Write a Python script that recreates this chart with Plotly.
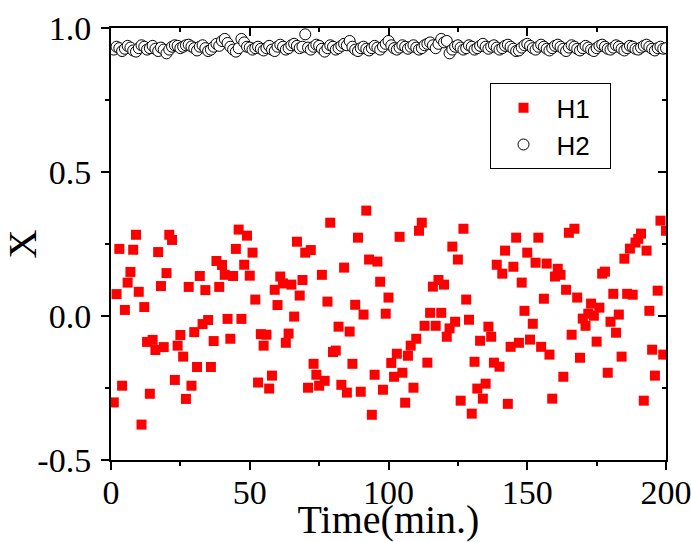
import plotly.graph_objects as go

# ---------------- data ----------------
h1_time = list(range(1, 201))
h1_x = [
    -0.300, 0.076, 0.233, -0.242, 0.021, 0.116, 0.153, 0.230, 0.282, 0.084,
    -0.377, 0.031, -0.090, -0.270, -0.083, -0.118, 0.222, 0.104, -0.108, 0.149,
    0.282, 0.264, -0.222, -0.103, -0.066, -0.141, -0.288, 0.101, -0.242, -0.056,
    -0.177, 0.139, -0.028, 0.090, -0.014, -0.177, -0.087, 0.191, 0.101, 0.177,
    0.143, -0.010, -0.079, 0.139, 0.233, 0.300, -0.010, 0.178, 0.279, 0.140,
    0.220, 0.057, -0.231, -0.063, -0.103, -0.065, -0.252, -0.207, 0.091, 0.038,
    0.137, 0.113, -0.093, -0.061, 0.109, -0.002, 0.258, 0.071, 0.125, 0.220,
    -0.249, 0.229, -0.166, -0.204, -0.242, 0.143, -0.225, 0.050, 0.324, -0.125,
    -0.120, -0.037, -0.239, 0.168, -0.266, -0.054, -0.166, 0.039, 0.272, -0.263,
    0.005, 0.366, 0.196, -0.343, -0.204, 0.189, 0.119, -0.256, 0.008, 0.064,
    -0.163, -0.211, -0.131, 0.275, -0.197, -0.301, -0.138, -0.103, -0.249, -0.079,
    0.296, 0.324, -0.034, -0.162, 0.011, 0.102, -0.034, 0.125, 0.011, 0.109,
    -0.072, -0.043, 0.241, -0.020, 0.196, -0.294, 0.303, 0.057, -0.013, -0.339,
    -0.159, -0.252, -0.086, -0.287, -0.235, -0.037, -0.072, -0.162, 0.178, -0.176,
    0.147, 0.227, -0.305, -0.107, 0.171, 0.272, -0.093, 0.116, 0.018, 0.220,
    -0.082, -0.027, 0.185, 0.272, -0.107, 0.060, 0.182, -0.134, -0.287, 0.137,
    0.164, 0.143, -0.211, 0.091, 0.289, -0.065, 0.303, 0.064, -0.145, -0.009,
    -0.034, 0.008, 0.043, 0.001, -0.089, 0.029, 0.147, 0.154, -0.197, -0.020,
    0.077, -0.058, 0.005, -0.141, 0.199, 0.077, 0.234, 0.074, 0.255, 0.268,
    0.286, -0.294, 0.227, 0.018, -0.117, -0.207, 0.088, 0.331, -0.134, 0.296,
]

h2_time = list(range(1, 201))
h2_x = [
    0.925, 0.935, 0.930, 0.920, 0.928, 0.938, 0.932, 0.922, 0.918, 0.930,
    0.940, 0.935, 0.925, 0.930, 0.938, 0.928, 0.920, 0.932, 0.925, 0.912,
    0.925, 0.935, 0.940, 0.938, 0.930, 0.935, 0.940, 0.942, 0.936, 0.930,
    0.922, 0.935, 0.940, 0.930, 0.920, 0.925, 0.935, 0.945, 0.938, 0.955,
    0.962, 0.948, 0.935, 0.925, 0.918, 0.930, 0.962, 0.950, 0.935, 0.932,
    0.925, 0.930, 0.935, 0.928, 0.922, 0.930, 0.938, 0.925, 0.920, 0.935,
    0.942, 0.935, 0.925, 0.930, 0.940, 0.945, 0.938, 0.930, 0.935, 0.978,
    0.932, 0.925, 0.935, 0.942, 0.938, 0.928, 0.918, 0.930, 0.940, 0.935,
    0.925, 0.930, 0.938, 0.945, 0.940, 0.955, 0.935, 0.925, 0.920, 0.930,
    0.935, 0.928, 0.922, 0.930, 0.938, 0.932, 0.925, 0.935, 0.945, 0.955,
    0.940, 0.930, 0.925, 0.932, 0.940, 0.935, 0.928, 0.935, 0.940, 0.932,
    0.925, 0.930, 0.940, 0.945, 0.950, 0.940, 0.930, 0.945, 0.962, 0.950,
    0.955, 0.912, 0.925, 0.935, 0.940, 0.932, 0.925, 0.930, 0.940, 0.935,
    0.925, 0.930, 0.938, 0.945, 0.935, 0.928, 0.935, 0.940, 0.932, 0.925,
    0.930, 0.938, 0.942, 0.935, 0.928, 0.920, 0.922, 0.932, 0.940, 0.945,
    0.938, 0.930, 0.925, 0.935, 0.942, 0.935, 0.928, 0.922, 0.930, 0.938,
    0.942, 0.935, 0.928, 0.920, 0.932, 0.940, 0.935, 0.928, 0.922, 0.930,
    0.938, 0.932, 0.925, 0.920, 0.930, 0.938, 0.942, 0.935, 0.928, 0.925,
    0.932, 0.940, 0.935, 0.928, 0.922, 0.930, 0.938, 0.935, 0.928, 0.925,
    0.932, 0.938, 0.942, 0.935, 0.928, 0.922, 0.930, 0.935, 0.928, 0.930,
]

x_ticks = [0, 50, 100, 150, 200]
x_minor = [25, 75, 125, 175]
y_ticks = [-0.5, 0.0, 0.5, 1.0]
y_tick_labels = ["-0.5", "0.0", "0.5", "1.0"]
y_minor = [-0.25, 0.25, 0.75]

# ---------------- figure ----------------
fig = go.Figure()

pad = "\u00a0\u00a0"
fig.add_trace(go.Scatter(
    x=h1_time, y=h1_x, mode="markers", name="H1" + pad,
    marker=dict(symbol="square", size=10, color="#ff0000", line=dict(width=0)),
))
fig.add_trace(go.Scatter(
    x=h2_time, y=h2_x, mode="markers", name="H2" + pad,
    marker=dict(symbol="circle", size=11, color="white",
                line=dict(color="black", width=1)),
))

serif = "Liberation Serif"
tickfont = dict(family=serif, size=34, color="black")
titlefont = dict(family=serif, size=40, color="black")

common = dict(showgrid=False, zeroline=False, showline=True, linecolor="black",
              linewidth=2, tickcolor="black", tickwidth=1.5, automargin=False)

fig.update_layout(
    width=691, height=542,
    margin=dict(l=111, r=25, t=28, b=82),
    paper_bgcolor="white", plot_bgcolor="white",
    showlegend=True,
    legend=dict(
        x=0.682, y=0.872, xanchor="left", yanchor="top",
        bordercolor="black", borderwidth=1, bgcolor="white",
        font=dict(family="Liberation Sans", size=26, color="black"),
        itemwidth=56,
    ),
    xaxis=dict(
        range=[0, 200], tickvals=x_ticks, ticks="outside", ticklen=8,
        tickfont=tickfont, ticklabelstandoff=-7, ticklabeloverflow="allow",
        title=dict(text="Time(min.)", font=titlefont, standoff=0),
        minor=dict(tickvals=x_minor, ticks="outside", ticklen=4,
                   tickwidth=1.5, tickcolor="black"),
        **common,
    ),
    yaxis=dict(
        range=[-0.5, 1.0], tickvals=y_ticks, ticktext=y_tick_labels, ticks="outside",
        ticklen=8, tickfont=tickfont, ticklabelstandoff=3, ticklabeloverflow="allow",
        title=dict(text="X", font=titlefont, standoff=4),
        minor=dict(tickvals=y_minor, ticks="outside", ticklen=4,
                   tickwidth=1.5, tickcolor="black"),
        **common,
    ),
    xaxis2=dict(
        overlaying="x", matches="x", side="top", range=[0, 200], tickvals=x_ticks,
        ticks="inside", ticklen=8, showticklabels=False,
        minor=dict(tickvals=x_minor, ticks="inside", ticklen=4,
                   tickwidth=1.5, tickcolor="black"),
        **common,
    ),
    yaxis2=dict(
        overlaying="y", matches="y", side="right", range=[-0.5, 1.0], tickvals=y_ticks,
        ticks="inside", ticklen=8, showticklabels=False,
        minor=dict(tickvals=y_minor, ticks="inside", ticklen=4,
                   tickwidth=1.5, tickcolor="black"),
        **common,
    ),
)

# invisible trace to activate the mirrored axes
fig.add_trace(go.Scatter(x=[None], y=[None], xaxis="x2", yaxis="y2",
                         showlegend=False, hoverinfo="skip"))

fig.write_html("out.html",
               config={"displayModeBar": False},
               post_script="document.body.style.margin='0';document.body.style.overflow='hidden';")
